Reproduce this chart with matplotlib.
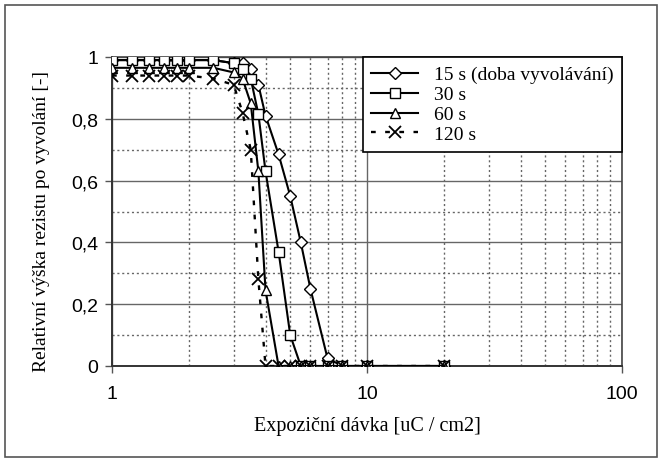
import matplotlib
matplotlib.use('Agg')
import matplotlib.pyplot as plt
import matplotlib.ticker as plticker
from matplotlib.patches import Rectangle

# dose values [uC / cm2]
DOSE = [1, 1.2, 1.4, 1.6, 1.8, 2, 2.5, 3, 3.25, 3.5, 3.75, 4, 4.5, 5,
        5.5, 6, 7, 8, 10, 20]

# relative resist height after development
H_15S = [0.99, 0.99, 0.99, 0.99, 0.99, 0.99, 0.99, 0.98, 0.98, 0.96, 0.91,
         0.81, 0.685, 0.55, 0.40, 0.25, 0.025, 0, 0, 0]
H_30S = [0.99, 0.99, 0.99, 0.99, 0.99, 0.99, 0.99, 0.98, 0.96, 0.93, 0.815,
         0.63, 0.37, 0.10, 0, 0, 0, 0, 0, 0]
H_60S = [0.965, 0.965, 0.965, 0.965, 0.965, 0.965, 0.965, 0.95, 0.93, 0.85,
         0.63, 0.245, 0, 0, 0, 0, 0, 0, 0, 0]
H_120S = [0.94, 0.94, 0.94, 0.94, 0.94, 0.94, 0.93, 0.91, 0.82, 0.70,
          0.28, 0, 0, 0, 0, 0, 0, 0, 0, 0]

SERIES = [
    # data     label                     marker  linestyle
    (H_15S,  '15 s (doba vyvolávání)',   'D',    '-'),
    (H_30S,  '30 s',                     's',    '-'),
    (H_60S,  '60 s',                     '^',    '-'),
    (H_120S, '120 s',                    'x',    (0, (2, 4))),
]

SERIF = ['Liberation Serif', 'DejaVu Serif']
SANS = ['Liberation Sans', 'DejaVu Sans']

fig = plt.figure(figsize=(6.62, 4.64), dpi=100)
fig.patches.append(Rectangle((5 / 662, 6 / 464), 652 / 662, 452 / 464,
                             transform=fig.transFigure, fill=False,
                             edgecolor='#555555', linewidth=1.2))

ax = fig.add_axes([112 / 662, 97 / 464, 510 / 662, 309 / 464])
ax.set_xscale('log')
ax.set_xlim(1, 100)
ax.set_ylim(0, 1)

for data, label, marker, ls in SERIES:
    msize = 6 if marker == 'D' else 7
    if marker == 'x':
        ax.plot(DOSE, data, linestyle=ls, color='black', linewidth=1.7,
                marker=marker, markersize=8, markeredgewidth=1.3,
                label=label, zorder=3)
    else:
        ax.plot(DOSE, data, linestyle=ls, color='black', linewidth=1.5,
                marker=marker, markersize=msize, markerfacecolor='white',
                markeredgecolor='black', markeredgewidth=1.0,
                label=label, zorder=3)

ax.yaxis.set_major_locator(plticker.MultipleLocator(0.2))
ax.yaxis.set_minor_locator(plticker.MultipleLocator(0.1))
ax.xaxis.set_major_locator(plticker.LogLocator(base=10))
ax.xaxis.set_minor_locator(plticker.LogLocator(base=10, subs=range(2, 10)))
ax.xaxis.set_minor_formatter(plticker.NullFormatter())


def comma_fmt(val, _pos):
    """Czech decimal comma"""
    if abs(val - round(val)) < 1e-9:
        return '%d' % round(val)
    return ('%.1f' % val).replace('.', ',')


ax.yaxis.set_major_formatter(plticker.FuncFormatter(comma_fmt))
ax.xaxis.set_major_formatter(plticker.FuncFormatter(lambda v, p: '%g' % v))

ax.grid(which='major', color='#666666', linestyle='-', linewidth=1.0)
ax.grid(which='minor', color='#666666', linestyle=(0, (1.5, 2)),
        linewidth=1.0)
ax.set_axisbelow(True)

for side in ['left', 'bottom']:
    ax.spines[side].set_color('#333333')
    ax.spines[side].set_linewidth(1.4)
for side in ['right', 'top']:
    ax.spines[side].set_color('#444444')
    ax.spines[side].set_linewidth(1.2)

ax.tick_params(which='major', direction='out', length=5, width=1.0,
               color='#555555', labelsize=14, pad=5)
ax.tick_params(axis='x', which='major', pad=9)
ax.tick_params(which='minor', length=0)
for lbl in ax.get_xticklabels() + ax.get_yticklabels():
    lbl.set_family(SANS)

ax.set_xlabel('Expoziční dávka [uC / cm2]', family=SERIF, fontsize=14.5,
              labelpad=10)
ax.set_ylabel('Relativní výška rezistu po vyvolání [-]', family=SERIF,
              fontsize=14)
ax.yaxis.set_label_coords(-62 / 510, 0.47)

leg = ax.legend(loc='upper right', bbox_to_anchor=(1.0, 1.0),
                prop={'family': SERIF, 'size': 14}, frameon=True,
                fancybox=False, framealpha=1, edgecolor='black',
                borderaxespad=0, handlelength=2.4, handletextpad=0.8,
                labelspacing=0.12, borderpad=0.45)
leg.get_frame().set_linewidth(1.2)

fig.savefig('out.png', dpi=100)
